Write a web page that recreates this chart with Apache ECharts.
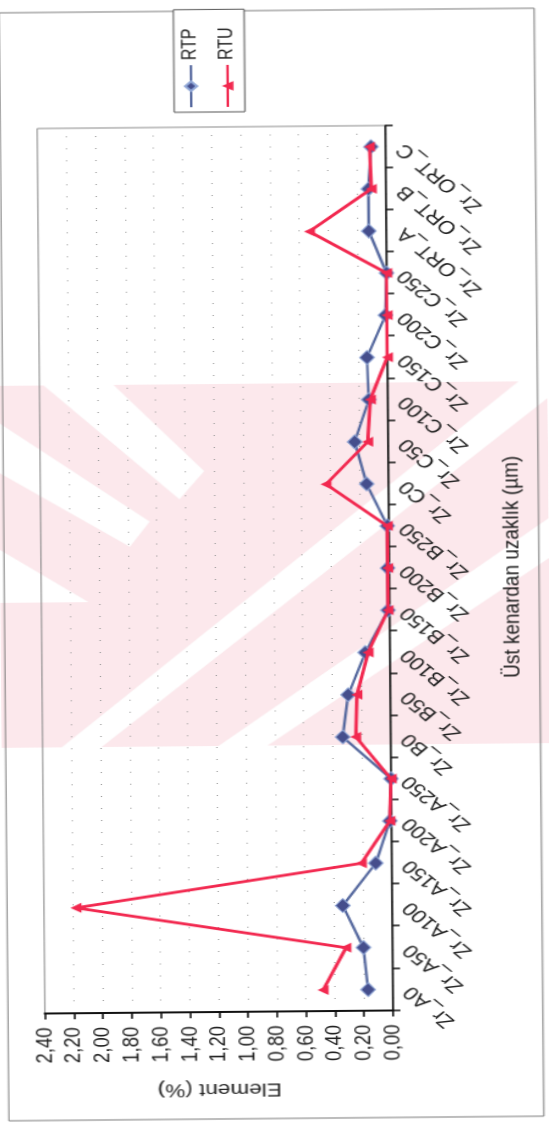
<!DOCTYPE html>
<html>
<head>
<meta charset="utf-8">
<script src="https://cdn.jsdelivr.net/npm/echarts@6/dist/echarts.min.js"></script>
<style>
  html, body { margin: 0; padding: 0; background: #ffffff; overflow: hidden; }
  body { width: 549px; height: 1123px; position: relative; }
  /* landscape chart turned a quarter turn onto the portrait page,
     drawn a little flatter and stretched back to full height */
  #chart {
    position: absolute;
    left: -287px; top: 336.5px;
    width: 1123px; height: 450px;
    transform-origin: 50% 50%;
    transform: rotate(-90.5deg) scale(1, 1.22);
  }
</style>
</head>
<body>
<div id="chart"></div>
<script>
// Sample positions along the cross-section
const categories = [
  'Zr_A0', 'Zr_A50', 'Zr_A100', 'Zr_A150', 'Zr_A200', 'Zr_A250',
  'Zr_B0', 'Zr_B50', 'Zr_B100', 'Zr_B150', 'Zr_B200', 'Zr_B250',
  'Zr_C0', 'Zr_C50', 'Zr_C100', 'Zr_C150', 'Zr_C200', 'Zr_C250',
  'Zr_ORT_A', 'Zr_ORT_B', 'Zr_ORT_C'
];

// Zr content (%) for the two sample sets
const rtp = [0.17, 0.20, 0.34, 0.11, 0.01, 0.00,
             0.33, 0.29, 0.17, 0.01, 0.01, 0.01,
             0.15, 0.23, 0.13, 0.14, 0.01, 0.00,
             0.12, 0.12, 0.10];
const rtu = [0.48, 0.32, 2.18, 0.21, 0.01, 0.00,
             0.24, 0.23, 0.15, 0.01, 0.01, 0.01,
             0.43, 0.14, 0.12, 0.00, 0.00, 0.00,
             0.53, 0.10, 0.11];

const seriesNames = ['RTP', 'RTU'];
const valueAxisMin = 0;
const valueAxisMax = 2.4;
const valueAxisStep = 0.2;
const valueAxisTitle = 'Element (%)';
const categoryAxisTitle = 'Üst kenardan uzaklık (µm)';

const W = 1123;          // chart width
const SY = 1.22;         // vertical stretch applied by the page transform
const FONT = '"Liberation Sans", Arial, sans-serif';

// page-space point (portrait) -> chart-space point (landscape, unstretched)
function pg(p) { return [W - p[1], p[0] / SY]; }
function poly(points, fill) {
  return {
    type: 'polygon', silent: true, z: -10,
    shape: { points: points.map(pg) },
    style: { fill: fill }
  };
}

// pale stamp in the background of the page
const stampPink = '#fce8ec';
const stamp = [
  poly([[0, 383], [549, 383], [549, 745], [0, 745]], stampPink),
  poly([[45, 383], [115, 383], [205, 470], [180, 498]], '#ffffff'),
  poly([[0, 420], [0, 470], [130, 545], [150, 520]], '#ffffff'),
  poly([[0, 547], [0, 600], [88, 600]], '#ffffff'),
  poly([[60, 745], [100, 745], [549, 400], [549, 383], [520, 383]], '#ffffff'),
  poly([[217, 745], [266, 745], [549, 560], [549, 520]], '#ffffff')
];

const chart = echarts.init(document.getElementById('chart'), null, { renderer: 'canvas' });

const option = {
  backgroundColor: 'transparent',
  animation: false,
  textStyle: { fontFamily: FONT },
  graphic: stamp.concat([
    {
      type: 'rect', silent: true, z: -5,
      shape: { x: 5, y: 3.3, width: 1108, height: 438.5 },
      style: { fill: 'none', stroke: '#7a7a7a', lineWidth: 1 }
    }
  ]),
  legend: {
    orient: 'vertical',
    left: 1012, top: 146,
    padding: [6, 18, 6, 4],
    itemGap: 14,
    itemWidth: 42, itemHeight: 12,
    borderColor: '#555', borderWidth: 1,
    backgroundColor: '#ffffff',
    textStyle: { fontSize: 16, color: '#222', fontFamily: FONT },
    data: seriesNames
  },
  grid: {
    left: 112, right: 126, top: 33.6, bottom: 131.1,
    show: true, borderColor: '#8a8a8a', borderWidth: 1,
    backgroundColor: 'transparent'
  },
  xAxis: {
    type: 'category',
    data: categories,
    boundaryGap: true,
    name: categoryAxisTitle,
    nameLocation: 'middle',
    nameGap: 91,
    nameTextStyle: { fontSize: 19, color: '#222', fontFamily: FONT },
    axisLine: { lineStyle: { color: '#111', width: 1.5 } },
    axisTick: { show: true, inside: false, length: 6, lineStyle: { color: '#111', width: 1.5 } },
    axisLabel: { interval: 0, rotate: 45, fontSize: 18.5, color: '#222', margin: 12, fontFamily: FONT },
    splitLine: { show: false }
  },
  yAxis: {
    type: 'value',
    min: valueAxisMin, max: valueAxisMax, interval: valueAxisStep,
    name: valueAxisTitle,
    nameLocation: 'middle',
    nameGap: 68,
    nameTextStyle: { fontSize: 18.5, color: '#222', fontFamily: FONT },
    axisLine: { show: true, lineStyle: { color: '#111', width: 2 } },
    axisTick: { show: true, inside: false, length: 6, lineStyle: { color: '#111', width: 1.5 } },
    axisLabel: {
      fontSize: 18.5, color: '#222', margin: 14, fontFamily: FONT,
      formatter: v => v.toFixed(2).replace('.', ',')
    },
    splitLine: { show: true, lineStyle: { color: '#9a9a9a', width: 1, type: [1, 11] } }
  },
  series: [
    {
      name: seriesNames[0],
      type: 'line',
      data: rtp,
      symbol: 'diamond',
      symbolSize: [14, 12],
      lineStyle: { color: '#55689e', width: 2.2 },
      itemStyle: { color: '#454e8c', borderColor: '#8fa6d6', borderWidth: 1 },
      z: 3
    },
    {
      name: seriesNames[1],
      type: 'line',
      data: rtu,
      symbol: 'triangle',
      symbolSize: [10, 9],
      lineStyle: { color: '#f2284f', width: 2.8 },
      itemStyle: { color: '#f2284f' },
      z: 4
    }
  ]
};

chart.setOption(option);
</script>
</body>
</html>
